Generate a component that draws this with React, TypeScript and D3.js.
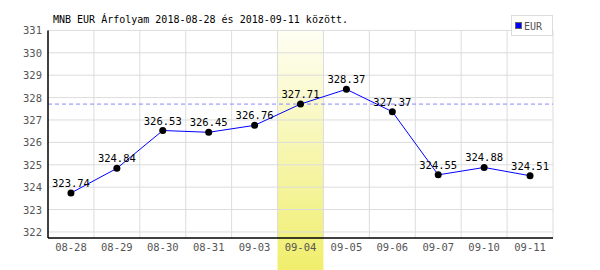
import React from "react";
import * as d3 from "d3";

const categories = ["08-28", "08-29", "08-30", "08-31", "09-03", "09-04", "09-05", "09-06", "09-07", "09-10", "09-11"];
const values = [323.74, 324.84, 326.53, 326.45, 326.76, 327.71, 328.37, 327.37, 324.55, 324.88, 324.51];
const yTicks = [322, 323, 324, 325, 326, 327, 328, 329, 330, 331];
const highlightCategory = "09-04";
const title = "MNB EUR Árfolyam 2018-08-28 és 2018-09-11 között.";
const seriesName = "EUR";

export default function App() {
  const W = 600, H = 270;
  const left = 48, right = 553, top = 30.4, bottom = 238;
  const x = d3.scaleBand<string>().domain(categories).range([left, right]).padding(0);
  const y = d3.scaleLinear().domain([321.73, 331]).range([bottom, top]);
  const font = "'DejaVu Sans Mono', monospace";
  const line = d3.line<number>()
    .x((_, i) => x(categories[i])! + x.bandwidth() / 2)
    .y((d) => y(d));
  const hiIdx = categories.indexOf(highlightCategory);
  const hiVal = values[hiIdx];
  return (
    <svg width={W} height={H} style={{ position: "absolute", left: 0, top: 0, background: "#fff" }}>
      <defs>
        <linearGradient id="hl" x1="0" y1="0" x2="0" y2="1">
          <stop offset="0" stopColor="#fefef4" />
          <stop offset="1" stopColor="#f0ee6c" />
        </linearGradient>
      </defs>
      <rect x={x(highlightCategory)} y={top} width={x.bandwidth()} height={H - top} fill="url(#hl)" />
      {yTicks.map((t) => (
        <line key={"h" + t} x1={left} x2={right} y1={y(t)} y2={y(t)} stroke="#dcdcdc" strokeWidth={1} />
      ))}
      {categories.map((c) => (
        <line key={"v" + c} x1={x(c)! + x.bandwidth()} x2={x(c)! + x.bandwidth()} y1={top} y2={bottom} stroke="#dcdcdc" strokeWidth={1} />
      ))}
      <line x1={left} x2={right} y1={y(hiVal)} y2={y(hiVal)} stroke="#8888ff" strokeDasharray="4,3" strokeWidth={1} />
      <line x1={left} x2={left} y1={top} y2={bottom} stroke="#000" strokeWidth={1.5} />
      <line x1={left} x2={right} y1={bottom} y2={bottom} stroke="#000" strokeWidth={1.5} />
      {yTicks.map((t) => (
        <text key={"yl" + t} x={42} y={y(t) + 4} textAnchor="end" fontFamily={font} fontSize={10.5} fill="#555">{t}</text>
      ))}
      {categories.map((c) => (
        <text key={"xl" + c} x={x(c)! + x.bandwidth() / 2} y={251} textAnchor="middle" fontFamily={font} fontSize={10.5} fill="#555">{c}</text>
      ))}
      <path d={line(values)!} fill="none" stroke="#0000ff" strokeWidth={1} />
      {values.map((v, i) => (
        <circle key={"p" + i} cx={x(categories[i])! + x.bandwidth() / 2} cy={y(v)} r={3.5} fill="#000" />
      ))}
      {values.map((v, i) => (
        <text key={"vl" + i} x={x(categories[i])! + x.bandwidth() / 2} y={y(v) - 6} textAnchor="middle" fontFamily={font} fontSize={10.5} fill="#000">{v.toFixed(2)}</text>
      ))}
      <text x={53} y={23} fontFamily={font} fontSize={10} fill="#000">{title}</text>
      <rect x={511.5} y={15.5} width={41} height={20} fill="#fff" stroke="#dcdcdc" />
      <rect x={515.5} y={22.5} width={6} height={6} fill="#0000ff" stroke="#666" />
      <text x={524} y={29.5} fontFamily={font} fontSize={10} fill="#555">{seriesName}</text>
    </svg>
  );
}
